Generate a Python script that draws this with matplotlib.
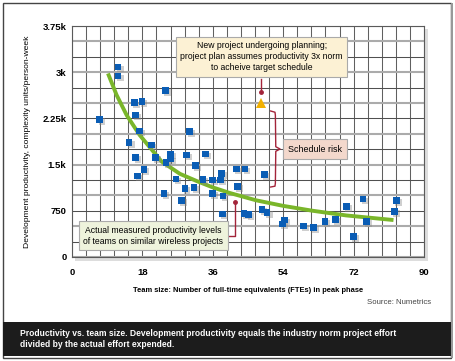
import numpy as np
import matplotlib
matplotlib.use('Agg')
import matplotlib.pyplot as plt
import matplotlib.patheffects as pe
from matplotlib.patches import Rectangle

plt.rcParams['font.family'] = ['Liberation Sans Narrow', 'Liberation Sans', 'DejaVu Sans']

# measured projects: team size (FTE) vs productivity
team_size = [7.1, 11.8, 11.8, 23.9, 15.9, 17.9, 16.2, 17.3, 14.6, 20.3,
             16.3, 21.4, 25.2, 25.2, 24.0, 29.3, 30.1, 18.4, 16.8, 26.6,
             28.9, 23.5, 28.0, 34.1, 31.6, 38.3, 42.0, 44.2, 49.2, 33.5,
             35.9, 37.9, 31.2, 35.9, 38.6, 42.3, 38.4, 44.0, 45.2, 48.6,
             49.9, 53.8, 54.4, 59.2, 61.8, 64.7, 67.3, 70.1, 74.4, 72.0,
             75.3, 82.4, 83.0]
productivity = [2235, 3084, 2938, 2699, 2504, 2527, 2305, 2045, 1862, 1818,
                1618, 1618, 1672, 1591, 1530, 1655, 2034, 1423, 1315, 1266,
                1115, 1027, 920, 1672, 1482, 1358, 1428, 1428, 1336, 1261,
                1250, 1250, 1125, 1034, 990, 1141, 698, 709, 693, 774,
                719, 536, 600, 503, 482, 573, 612, 816, 941, 329,
                573, 735, 914]

# trend line
trend_x = [9.2, 11.4, 14.0, 17.3, 22.9, 27.6, 32.0, 36.0, 40.3, 47.1, 54.0, 61.6, 70.1, 82.2]
trend_y = [2980, 2630, 2300, 1980, 1550, 1350, 1230, 1130, 1040, 920, 830, 750, 675, 600]

# planned project
plan_x, plan_y = [48.2], [2500]

xticks = [0, 18, 36, 54, 72, 90]
yticks = [0, 750, 1500, 2250, 3000, 3750]
ytick_labels = ['0', '750', '1.5k', '2.25k', '3k', '3.75k']

W, H = 455, 361
fig = plt.figure(figsize=(W / 100, H / 100), dpi=100)
fig.patch.set_facecolor('white')

# outer frame and caption band
fig.patches.append(Rectangle((3 / W, 1 - 358 / H), 448 / W, 355 / H, transform=fig.transFigure,
                             fill=False, edgecolor='#444444', lw=1.0, zorder=-2))
fig.patches.append(Rectangle((451 / W, 1 - 358 / H), 2 / W, 355 / H, transform=fig.transFigure,
                             facecolor='#999999', edgecolor='none', zorder=-2))
fig.patches.append(Rectangle((3 / W, 1 - 356 / H), 448 / W, 34.5 / H, transform=fig.transFigure,
                             facecolor='#1c1c1c', edgecolor='none', zorder=-1))
fig.text(20 / W, 1 - 333 / H, 'Productivity vs. team size. Development productivity equals the industry norm project effort',
         color='white', fontsize=6.15, fontweight='bold', va='center', ha='left')
fig.text(20 / W, 1 - 344.5 / H, 'divided by the actual effort expended.',
         color='white', fontsize=6.15, fontweight='bold', va='center', ha='left')

# plot-area drop shadow
fig.patches.append(Rectangle((75 / W, 1 - 261 / H), 353 / W, 232 / H, transform=fig.transFigure,
                             facecolor='#dddddd', edgecolor='none', zorder=-1))

ax = fig.add_axes([72 / W, 1 - 257 / H, 352 / W, 231 / H])
ax.set_zorder(3)
ax.set_facecolor('white')
ax.set_xlim(0, 90)
ax.set_ylim(0, 3750)

for gx in np.arange(0, 90.01, 3.6):
    ax.axvline(gx, color='#606060', lw=0.75, zorder=1)
for gy in np.arange(0, 3750.01, 250):
    if round(gy) % 500 == 0:
        ax.axhline(gy, color='#ababab', lw=1.5, zorder=1)
    else:
        ax.axhline(gy, color='#505050', lw=0.75, zorder=1)

for s in ax.spines.values():
    s.set_color('#5a5a5a')
    s.set_linewidth(0.8)

ax.set_xticks(xticks)
ax.set_yticks(yticks)
ax.set_yticklabels(ytick_labels)
ax.tick_params(length=0, labelsize=6.8, pad=4)
for lab in ax.get_xticklabels() + ax.get_yticklabels():
    lab.set_fontweight('bold')
ax.tick_params(axis='x', pad=8)

ax.set_xlabel('Team size: Number of full-time equivalents (FTEs) in peak phase',
              fontsize=5.4, fontweight='bold', labelpad=7)
ax.set_ylabel('Development productivity, complexity units/person-week', fontsize=6.1, labelpad=8)

ax.plot(trend_x, trend_y, color='#7ab62a', lw=2.8, solid_capstyle='butt', zorder=3)

shadow = [pe.SimplePatchShadow(offset=(1.5, -1.5), shadow_rgbFace='#888888', alpha=0.4), pe.Normal()]
ax.plot(team_size, productivity, 's', color='#0a5db5', markersize=4.8, markeredgewidth=0,
        zorder=4, path_effects=shadow)
ax.plot(plan_x, plan_y, '^', color='#f2b000', markersize=7, markeredgewidth=0, zorder=4)

red = '#a3243a'
# top callout
ax.text(48.5, 3250, 'New project undergoing planning;\nproject plan assumes productivity 3x norm\nto acheive target schedule',
        ha='center', va='center', fontsize=6.2, linespacing=1.3, zorder=6,
        bbox=dict(boxstyle='square,pad=0.5', facecolor='#fcf1d4', edgecolor='#aaaaaa', lw=0.8))
ax.plot([48.2, 48.2], [2890, 2685], color=red, lw=1.0, zorder=5)
ax.plot([48.2], [2685], 'o', color=red, markersize=2.5, zorder=5)

# schedule risk brace
brace_x = [50.8, 51.9, 52.0, 52.1, 53.2, 52.1, 52.0, 51.9, 50.8]
brace_y = [2370, 2350, 2300, 1790, 1753, 1716, 1200, 1150, 1136]
ax.plot(brace_x, brace_y, color=red, lw=1.0, zorder=5)
ax.text(55.2, 1753, 'Schedule risk', ha='left', va='center', fontsize=6.4, zorder=6,
        bbox=dict(boxstyle='square,pad=0.6', facecolor='#f3d8cc', edgecolor='#aaaaaa', lw=0.8))

# bottom callout
ax.text(20.8, 345, 'Actual measured productivity levels\nof teams on similar wireless projects',
        ha='center', va='center', fontsize=6.2, linespacing=1.3, zorder=6,
        bbox=dict(boxstyle='square,pad=0.5', facecolor='#eef3dc', edgecolor='#aaaaaa', lw=0.8))
ax.plot([40.0, 41.8, 41.8], [345, 345, 890], color=red, lw=1.0, zorder=5)
ax.plot([41.8], [890], 'o', color=red, markersize=2.5, zorder=5)

fig.text(431 / W, 1 - 302 / H, 'Source: Numetrics', ha='right', va='center', fontsize=5.6, color='#444444')

fig.savefig('out.png', dpi=100)
